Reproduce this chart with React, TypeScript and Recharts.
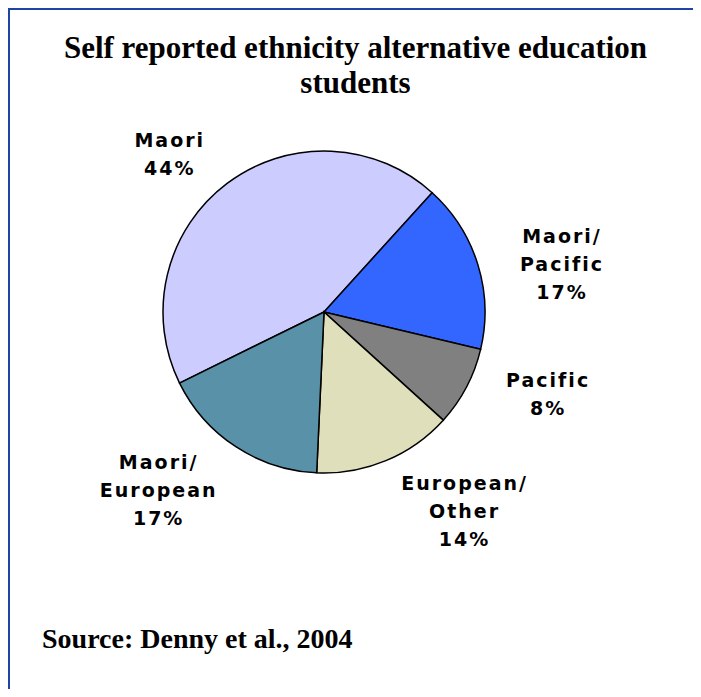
import { PieChart, Pie, Cell } from 'recharts';

const categories = ['Maori', 'Maori/Pacific', 'Pacific', 'European/Other', 'Maori/European'];
const shares = [44, 17, 8, 14, 17];
const sliceColors = ['#CCCCFF', '#3366FF', '#808080', '#DFDFBC', '#5891A8'];

const titleLines = ['Self reported ethnicity alternative education', 'students'];
const sourceText = 'Source: Denny et al., 2004';

const data = categories.map((name, i) => ({ name, value: shares[i] }));

const RADIAN = Math.PI / 180;
const LINE_H = 28;

// label box sits outside the slice's mid angle, pushed to the side it faces
function renderLabel(props: any) {
    const { cx, cy, midAngle, name, value } = props;
    const parts = String(name).split('/');
    const lines = parts.map((p: string, i: number) => (i < parts.length - 1 ? p + '/' : p));
    lines.push(`${value}%`);
    const cos = Math.cos(-midAngle * RADIAN);
    const sin = Math.sin(-midAngle * RADIAN);
    const w = Math.max(...lines.map((l: string) => l.length)) * 14.5;
    const h = lines.length * LINE_H;
    const x = cx + 196 * cos + Math.sign(cos) * w / 2;
    const y = cy + 200 * (sin - 0.12 * Math.sign(sin)) + sin * h / 2;
    const firstBase = y - ((lines.length - 1) * LINE_H) / 2 + 7;
    return (
        <text
            x={x}
            y={firstBase}
            textAnchor="middle"
            fill="#000"
            fontFamily="DejaVu Sans"
            fontWeight="bold"
            fontSize={19}
            letterSpacing={2}
        >
            {lines.map((l: string, i: number) => (
                <tspan key={i} x={x} dy={i === 0 ? 0 : LINE_H}>
                    {l}
                </tspan>
            ))}
        </text>
    );
}

export default function App() {
    return (
        <div
            style={{
                position: 'relative',
                width: 693,
                height: 681,
                boxSizing: 'border-box',
                borderTop: '2px solid #1F44A8',
                borderLeft: '2px solid #1F44A8',
                overflow: 'hidden',
            }}
        >
            <div style={{ position: 'absolute', left: -10, top: -10, width: 701, height: 697 }}>
                <div
                    style={{
                        position: 'absolute',
                        left: 0,
                        top: 30,
                        width: 711,
                        textAlign: 'center',
                        fontFamily: '"Liberation Serif", serif',
                        fontWeight: 'bold',
                        fontSize: 31,
                        lineHeight: '35px',
                        whiteSpace: 'nowrap',
                    }}
                >
                    {titleLines.map((t) => (
                        <div key={t}>{t}</div>
                    ))}
                </div>
                <PieChart
                    width={701}
                    height={697}
                    margin={{ top: 0, right: 0, bottom: 0, left: 0 }}
                    style={{ position: 'absolute', left: 0, top: 0 }}
                >
                    <Pie
                        data={data}
                        dataKey="value"
                        nameKey="name"
                        cx={324}
                        cy={312}
                        outerRadius={161}
                        startAngle={206.2}
                        endAngle={-153.8}
                        stroke="#000"
                        strokeWidth={1.5}
                        label={renderLabel}
                        labelLine={false}
                        isAnimationActive={false}
                    >
                        {data.map((d, i) => (
                            <Cell key={d.name} fill={sliceColors[i]} />
                        ))}
                    </Pie>
                </PieChart>
                <div
                    style={{
                        position: 'absolute',
                        left: 42,
                        top: 625,
                        fontFamily: '"Liberation Serif", serif',
                        fontWeight: 'bold',
                        fontSize: 28,
                        lineHeight: '28px',
                        whiteSpace: 'nowrap',
                    }}
                >
                    {sourceText}
                </div>
            </div>
        </div>
    );
}
